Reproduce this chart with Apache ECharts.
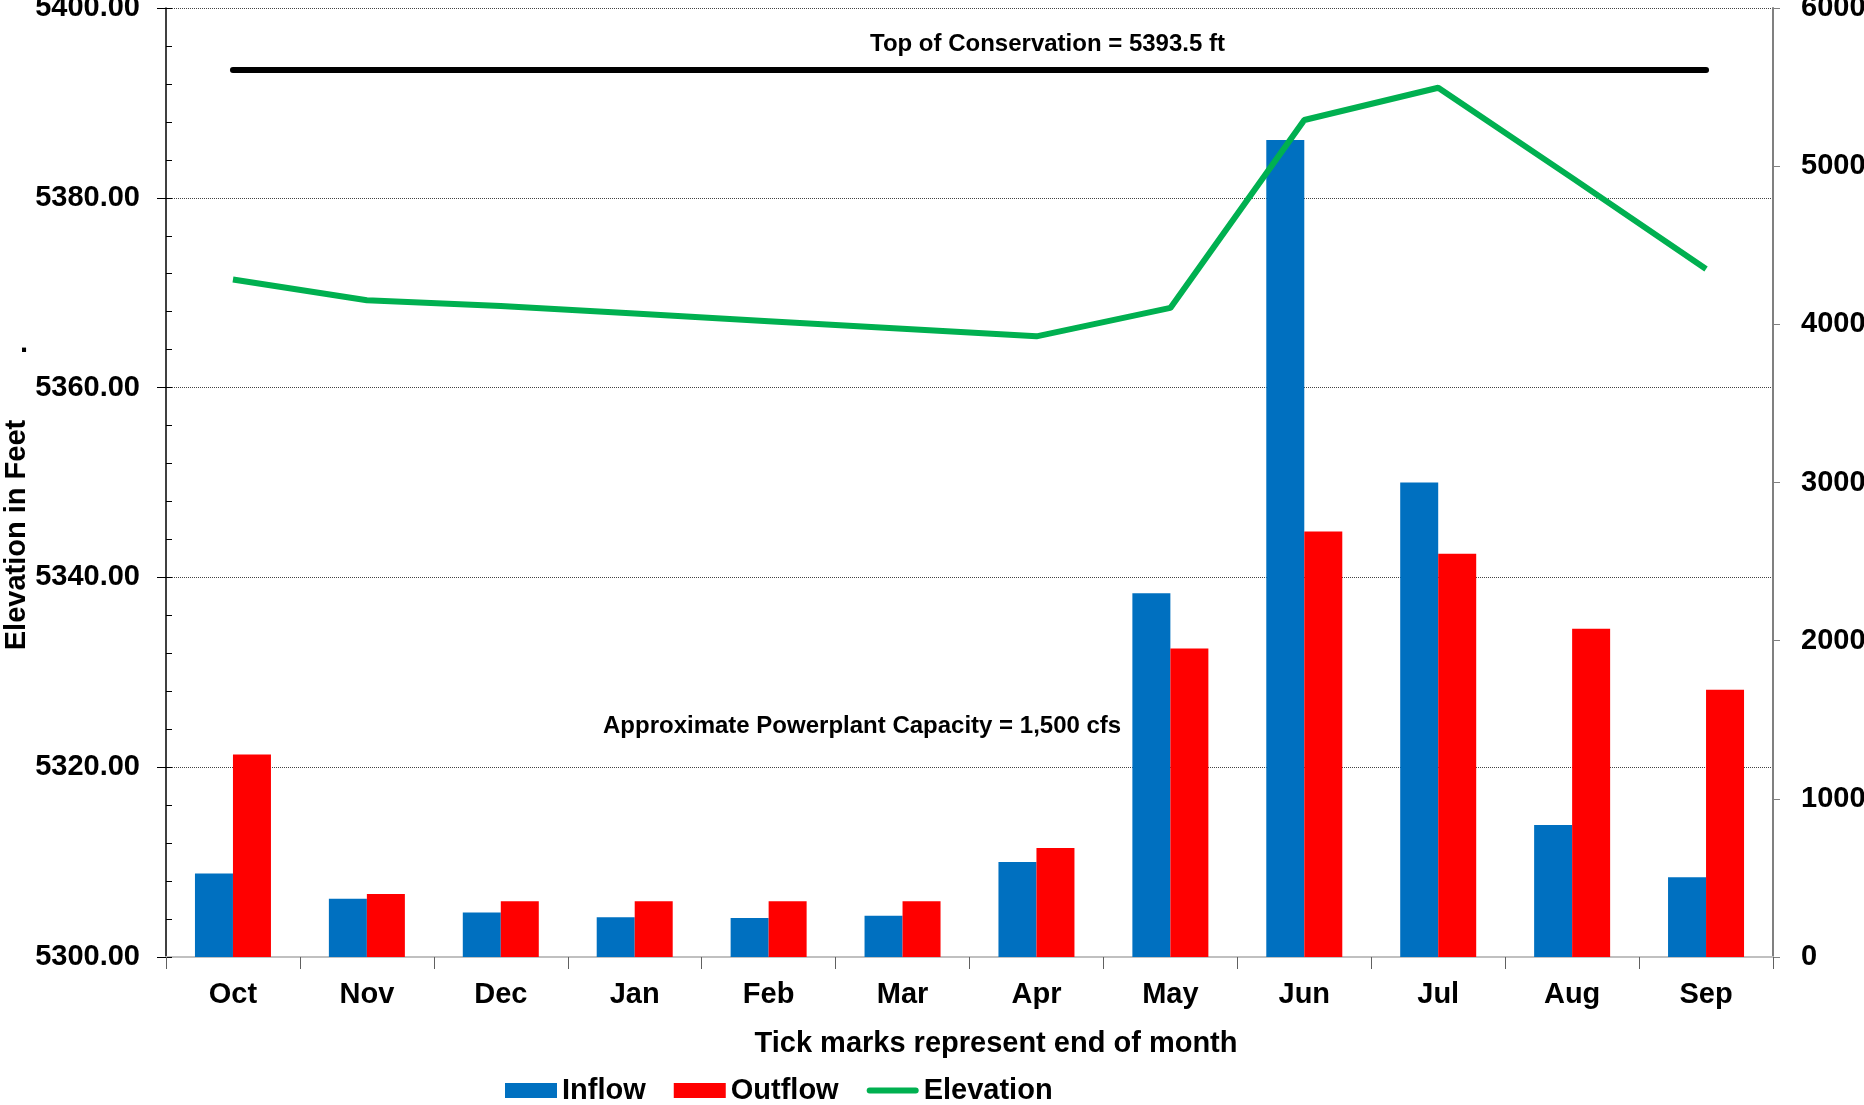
<!DOCTYPE html>
<html>
<head>
<meta charset="utf-8">
<script src="https://cdn.jsdelivr.net/npm/echarts@6/dist/echarts.min.js"></script>
<style>
html, body { margin: 0; padding: 0; background: #fff; }
#chart { width: 1864px; height: 1105px; }
</style>
</head>
<body>
<div id="chart"></div>
<script>
// months (tick marks = end of month)
const months = ['Oct', 'Nov', 'Dec', 'Jan', 'Feb', 'Mar', 'Apr', 'May', 'Jun', 'Jul', 'Aug', 'Sep'];
// flows in cfs (right axis)
const inflow = [528, 368, 282, 251, 246, 261, 600, 2300, 5165, 3000, 835, 505];
const outflow = [1280, 398, 352, 352, 352, 352, 689, 1950, 2690, 2550, 2075, 1690];
// reservoir elevation in feet (left axis)
const elevation = [5371.4, 5369.2, 5368.6, 5367.8, 5367.0, 5366.2, 5365.4, 5368.4, 5388.2, 5391.6, 5382.1, 5372.5];
const topConservation = 5393.5;

const FONT = '"Liberation Sans", Arial, sans-serif';
const txt = { fontFamily: FONT, fontWeight: 'bold', color: '#000' };

const chart = echarts.init(document.getElementById('chart'));
chart.setOption({
    animation: false,
    backgroundColor: '#fff',
    grid: { left: 166, right: 91, top: 8, bottom: 148, outerBoundsMode: 'none' },
    legend: {
        left: 500,
        top: 1071,
        itemWidth: 52,
        itemHeight: 15,
        itemGap: 28,
        textStyle: Object.assign({ fontSize: 29 }, txt),
        data: [
            { name: 'Inflow', icon: 'rect' },
            { name: 'Outflow', icon: 'rect' },
            { name: 'Elevation', icon: 'path://M3,0 H49 A3,3 0 0 1 49,6 H3 A3,3 0 0 1 3,0 Z' }
        ]
    },
    xAxis: {
        type: 'category',
        data: months,
        name: 'Tick marks represent end of month',
        nameLocation: 'middle',
        nameGap: 72,
        nameTextStyle: Object.assign({ fontSize: 29, padding: [0, 0, 0, 53] }, txt),
        axisLine: { lineStyle: { color: '#c0c0c0', width: 2 } },
        axisTick: { show: true, length: 12, lineStyle: { color: '#606060' } },
        axisLabel: Object.assign({ fontSize: 29, margin: 23 }, txt)
    },
    yAxis: [
        {
            type: 'value',
            position: 'left',
            min: 5300,
            max: 5400,
            interval: 20,
            axisLine: { show: true, lineStyle: { color: '#000', width: 1.5 } },
            axisTick: { show: true, length: 9, lineStyle: { color: '#000' } },
            axisLabel: Object.assign({ fontSize: 29, margin: 26, formatter: v => v.toFixed(2) }, txt),
            splitLine: { show: true, lineStyle: { color: '#444', type: 'dotted', width: 1 } }
        },
        {
            type: 'value',
            position: 'right',
            min: 0,
            max: 6000,
            interval: 1000,
            axisLine: { show: true, lineStyle: { color: '#808080', width: 2 } },
            axisTick: { show: true, length: 7, lineStyle: { color: '#808080' } },
            axisLabel: Object.assign({ fontSize: 29, margin: 28, formatter: v => String(v) }, txt),
            splitLine: { show: false }
        },
        {
            // minor ticks on the elevation axis, pointing inward
            type: 'value',
            position: 'left',
            min: 5300,
            max: 5400,
            interval: 4,
            axisLine: { show: false },
            axisTick: { show: true, inside: true, length: 6, lineStyle: { color: '#000' } },
            axisLabel: { show: false },
            splitLine: { show: false }
        }
    ],
    series: [
        {
            name: 'Inflow',
            type: 'bar',
            yAxisIndex: 1,
            barWidth: 38,
            barGap: '0%',
            itemStyle: { color: '#0070C0' },
            data: inflow
        },
        {
            name: 'Outflow',
            type: 'bar',
            yAxisIndex: 1,
            barWidth: 38,
            itemStyle: { color: '#FF0000' },
            data: outflow
        },
        {
            name: 'Elevation',
            type: 'line',
            yAxisIndex: 0,
            symbol: 'none',
            z: 5,
            lineStyle: { color: '#00B050', width: 6 },
            itemStyle: { color: '#00B050' },
            data: elevation,
            markLine: {
                silent: true,
                symbol: ['none', 'none'],
                label: { show: false },
                lineStyle: { color: '#000', width: 6, type: 'solid', cap: 'round' },
                data: [[
                    { coord: [months[0], topConservation] },
                    { coord: [months[months.length - 1], topConservation] }
                ]]
            }
        }
    ],
    graphic: [
        {
            type: 'text', left: 870, top: 32,
            style: { text: 'Top of Conservation = ' + topConservation + ' ft', font: 'bold 24px ' + FONT, fill: '#000' }
        },
        {
            type: 'text', left: 603, top: 714,
            style: { text: 'Approximate Powerplant Capacity = 1,500 cfs', font: 'bold 24px ' + FONT, fill: '#000' }
        },
        {
            type: 'text', x: 17, y: 535, rotation: Math.PI / 2,
            style: { text: 'Elevation in Feet', font: 'bold 29px ' + FONT, fill: '#000', align: 'center', verticalAlign: 'middle' }
        },
        {
            type: 'text', x: 24, y: 344,
            style: { text: '.', font: 'bold 29px ' + FONT, fill: '#000', align: 'center', verticalAlign: 'middle' }
        }
    ]
});
</script>
</body>
</html>
